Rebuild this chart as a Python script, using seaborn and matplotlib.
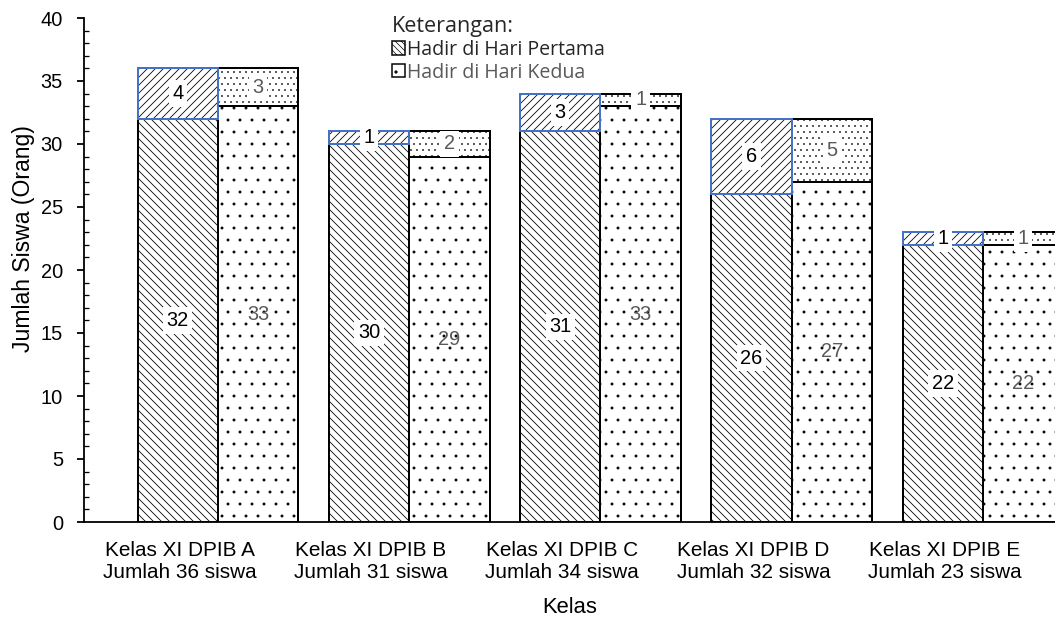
import numpy as np
import pandas as pd
import seaborn as sns
import matplotlib.pyplot as plt
from matplotlib.patches import Patch, Rectangle
from matplotlib.ticker import MultipleLocator

# Attendance per class, split into students present and the remainder of each class
kelas = [
    "Kelas XI DPIB A\nJumlah 36 siswa",
    "Kelas XI DPIB B\nJumlah 31 siswa",
    "Kelas XI DPIB C\nJumlah 34 siswa",
    "Kelas XI DPIB D\nJumlah 32 siswa",
    "Kelas XI DPIB E\nJumlah 23 siswa",
]
hari = ["Hadir di Hari Pertama", "Hadir di Hari Kedua"]
hadir_hari1 = [32, 30, 31, 26, 22]
sisa_hari1 = [4, 1, 3, 6, 1]
hadir_hari2 = [33, 29, 33, 27, 22]
sisa_hari2 = [3, 2, 1, 5, 1]

df = pd.DataFrame({
    "kelas": kelas * 2,
    "hari": [hari[0]] * len(kelas) + [hari[1]] * len(kelas),
    "hadir": hadir_hari1 + hadir_hari2,
    "sisa": sisa_hari1 + sisa_hari2,
})

sns.set_theme(style="ticks")
plt.rcParams["font.family"] = ["Liberation Sans", "DejaVu Sans"]
plt.rcParams["hatch.linewidth"] = 0.7
plt.rcParams["hatch.color"] = "black"

BLUE = "#4472C4"
GREY = "#595959"
W, H, DPI = 1055, 619, 72  # at 72 dpi one point is one pixel

fig = plt.figure(figsize=(W / DPI, H / DPI), dpi=DPI)
ax = fig.add_axes([84 / W, 97 / H, 1 - 84 / W, (522 - 18) / H])

common = dict(data=df, x="kelas", hue="hari", order=kelas, hue_order=hari,
              width=0.84, errorbar=None, saturation=1, legend=False,
              palette=["white", "white"], edgecolor="black", linewidth=2,
              ax=ax)
sns.barplot(y="hadir", **common)
sns.barplot(y="sisa", **common)

bot1, bot2, top1, top2 = ax.containers[:4]

# stack the remainder segments on top of the present counts
for cont, base in ((top1, hadir_hari1), (top2, hadir_hari2)):
    for p, b in zip(cont, base):
        p.set_y(b)


def hatch(p, pattern, lw):
    p.set_hatch(pattern)
    if hasattr(p, "set_hatch_linewidth"):
        p.set_hatch_linewidth(lw)


for p in bot1:
    hatch(p, "\\\\\\", 0.8)
for p in bot2:
    hatch(p, ".", 0.4)
for p in top2:
    hatch(p, "..", 0.5)
for p in top1:
    hatch(p, "///", 0.8)
    ax.add_patch(Rectangle(p.get_xy(), p.get_width(), p.get_height(),
                           fill=False, edgecolor=BLUE, linewidth=2,
                           zorder=p.get_zorder() + 0.1))

box = dict(boxstyle="square,pad=0.18", fc="white", ec="none")


def label(cont, values, color, with_box):
    for p, v in zip(cont, values):
        ax.text(p.get_x() + p.get_width() / 2, p.get_y() + p.get_height() / 2,
                f"{v}", ha="center", va="center", fontsize=20, color=color,
                bbox=box if with_box else None, zorder=5)


label(bot1, hadir_hari1, "black", True)
label(bot2, hadir_hari2, GREY, False)
label(top1, sisa_hari1, "black", True)
label(top2, sisa_hari2, GREY, True)

ax.set_ylim(0, 40)
ax.set_xlim(-0.70, 4.376)
# category labels sit at the middle of each category band, left of the bar pairs
ax.set_xticks(np.arange(len(kelas)) - 0.2, labels=kelas)
ax.yaxis.set_major_locator(MultipleLocator(5))
ax.yaxis.set_minor_locator(MultipleLocator(1))
ax.tick_params(axis="y", which="major", direction="out", length=7, width=1.8,
               color="black", labelsize=20, labelcolor="black", pad=14)
ax.tick_params(axis="y", which="minor", direction="in", length=5, width=1.3,
               color="black", left=True)
ax.tick_params(axis="x", length=0, labelsize=20.8, pad=19, labelcolor="black")
for lab in ax.get_xticklabels():
    lab.set_linespacing(1.2)

for s in ("top", "right"):
    ax.spines[s].set_visible(False)
for s in ("left", "bottom"):
    ax.spines[s].set_color("black")
    ax.spines[s].set_linewidth(1.8)

ax.set_ylabel("Jumlah Siswa (Orang)", fontsize=23, color="black")
ax.yaxis.set_label_coords(-0.05, 0.563)
ax.set_xlabel("Kelas", fontsize=22, color="black", labelpad=15)

handles = [
    Patch(facecolor="white", edgecolor="black", hatch="\\\\\\\\", linewidth=1.5),
    Patch(facecolor="white", edgecolor="black", hatch=".", linewidth=1.5),
]
leg = ax.legend(handles, hari, title="Keterangan:", loc="upper left",
                bbox_to_anchor=(382 / W, 1 - 6 / H),
                bbox_transform=fig.transFigure, frameon=False,
                prop={"family": ["Open Sans", "DejaVu Sans"], "size": 19.5},
                title_fontproperties={"family": ["Open Sans", "DejaVu Sans"], "size": 21.5},
                handlelength=0.68, handleheight=0.68, handletextpad=0.12,
                labelspacing=0.15, borderpad=0.0, alignment="left")
leg.get_texts()[1].set_color(GREY)

fig.savefig("out.png", dpi=DPI)
